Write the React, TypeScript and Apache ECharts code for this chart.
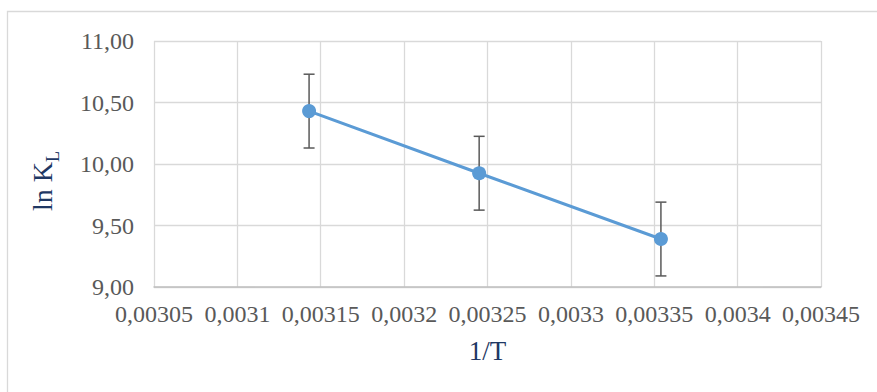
import React, { useEffect, useRef } from "react";
import * as echarts from "echarts";

// Reciprocal temperature (1/T) and the Langmuir constant ln K_L
const invT = [0.003143, 0.003245, 0.003354];
const lnKL = [10.43, 9.925, 9.39];
const lnKLError = [0.3, 0.3, 0.3];

// Axis ranges and tick steps
const xMin = 0.00305;
const xMax = 0.00345;
const xStep = 0.00005;
const yMin = 9;
const yMax = 11;
const yStep = 0.5;

const serif = '"Liberation Serif", "Times New Roman", serif';
const labelColor = "#595959";
const titleColor = "#1F3864";
const seriesColor = "#5B9BD5";

const commaDecimal = (v: number, digits?: number) =>
  (digits === undefined ? String(+v.toFixed(6)) : v.toFixed(digits)).replace(".", ",");

export default function App() {
  const ref = useRef<HTMLDivElement>(null);

  useEffect(() => {
    if (!ref.current) return;
    const chart = echarts.init(ref.current, undefined, { renderer: "svg" });

    const points = invT.map((x, i) => [x, lnKL[i]]);
    const bars = invT.map((x, i) => [x, lnKL[i] - lnKLError[i], lnKL[i] + lnKLError[i]]);

    chart.setOption({
      animation: false,
      backgroundColor: "#ffffff",
      grid: { left: 154, top: 41, right: 56, bottom: 105, containLabel: false },
      xAxis: {
        type: "value",
        min: xMin,
        max: xMax,
        interval: xStep,
        name: "1/T",
        nameLocation: "middle",
        nameGap: 50,
        nameTextStyle: { fontFamily: serif, fontSize: 27, color: titleColor },
        axisLine: { show: true, lineStyle: { color: "#BFBFBF", width: 1.5 } },
        axisTick: { show: false },
        axisLabel: {
          margin: 15,
          fontFamily: serif,
          fontSize: 24,
          color: labelColor,
          formatter: (v: number) => commaDecimal(v),
        },
        splitLine: { show: true, lineStyle: { color: "#D9D9D9", width: 1.3 } },
      },
      yAxis: {
        type: "value",
        min: yMin,
        max: yMax,
        interval: yStep,
        axisLine: { show: false },
        axisTick: { show: false },
        axisLabel: {
          margin: 20,
          fontFamily: serif,
          fontSize: 24,
          color: labelColor,
          formatter: (v: number) => commaDecimal(v, 2),
        },
        splitLine: { show: true, lineStyle: { color: "#D9D9D9", width: 1.3 } },
      },
      graphic: [
        {
          type: "rect",
          z: -10,
          shape: { x: 7.5, y: 11.5, width: 900, height: 420 },
          style: { fill: "none", stroke: "#D9D9D9", lineWidth: 1.3 },
        },
        {
          type: "text",
          x: 42,
          y: 181,
          rotation: Math.PI / 2,
          style: {
            text: "{a|ln K}{b|L}",
            align: "center",
            verticalAlign: "middle",
            rich: {
              a: { fontFamily: serif, fontSize: 28, fill: titleColor },
              b: {
                fontFamily: serif,
                fontSize: 18,
                fill: titleColor,
                verticalAlign: "bottom",
                padding: [0, 0, -6, 0],
              },
            },
          },
        },
      ],
      series: [
        {
          type: "custom",
          z: 2,
          data: bars,
          renderItem: (params: any, api: any) => {
            const x = api.value(0);
            const lo = api.coord([x, api.value(1)]);
            const hi = api.coord([x, api.value(2)]);
            const cap = 5.5;
            const style = { stroke: "#595959", lineWidth: 1.5 };
            return {
              type: "group",
              children: [
                { type: "line", shape: { x1: hi[0], y1: hi[1], x2: lo[0], y2: lo[1] }, style },
                { type: "line", shape: { x1: hi[0] - cap, y1: hi[1], x2: hi[0] + cap, y2: hi[1] }, style },
                { type: "line", shape: { x1: lo[0] - cap, y1: lo[1], x2: lo[0] + cap, y2: lo[1] }, style },
              ],
            };
          },
        },
        {
          type: "line",
          z: 3,
          data: points,
          symbol: "circle",
          symbolSize: 14,
          itemStyle: { color: seriesColor },
          lineStyle: { color: seriesColor, width: 3 },
        },
      ],
    });

    return () => chart.dispose();
  }, []);

  return (
    <div
      ref={ref}
      style={{ position: "fixed", left: 0, top: 0, width: 877, height: 392, background: "#fff" }}
    />
  );
}
